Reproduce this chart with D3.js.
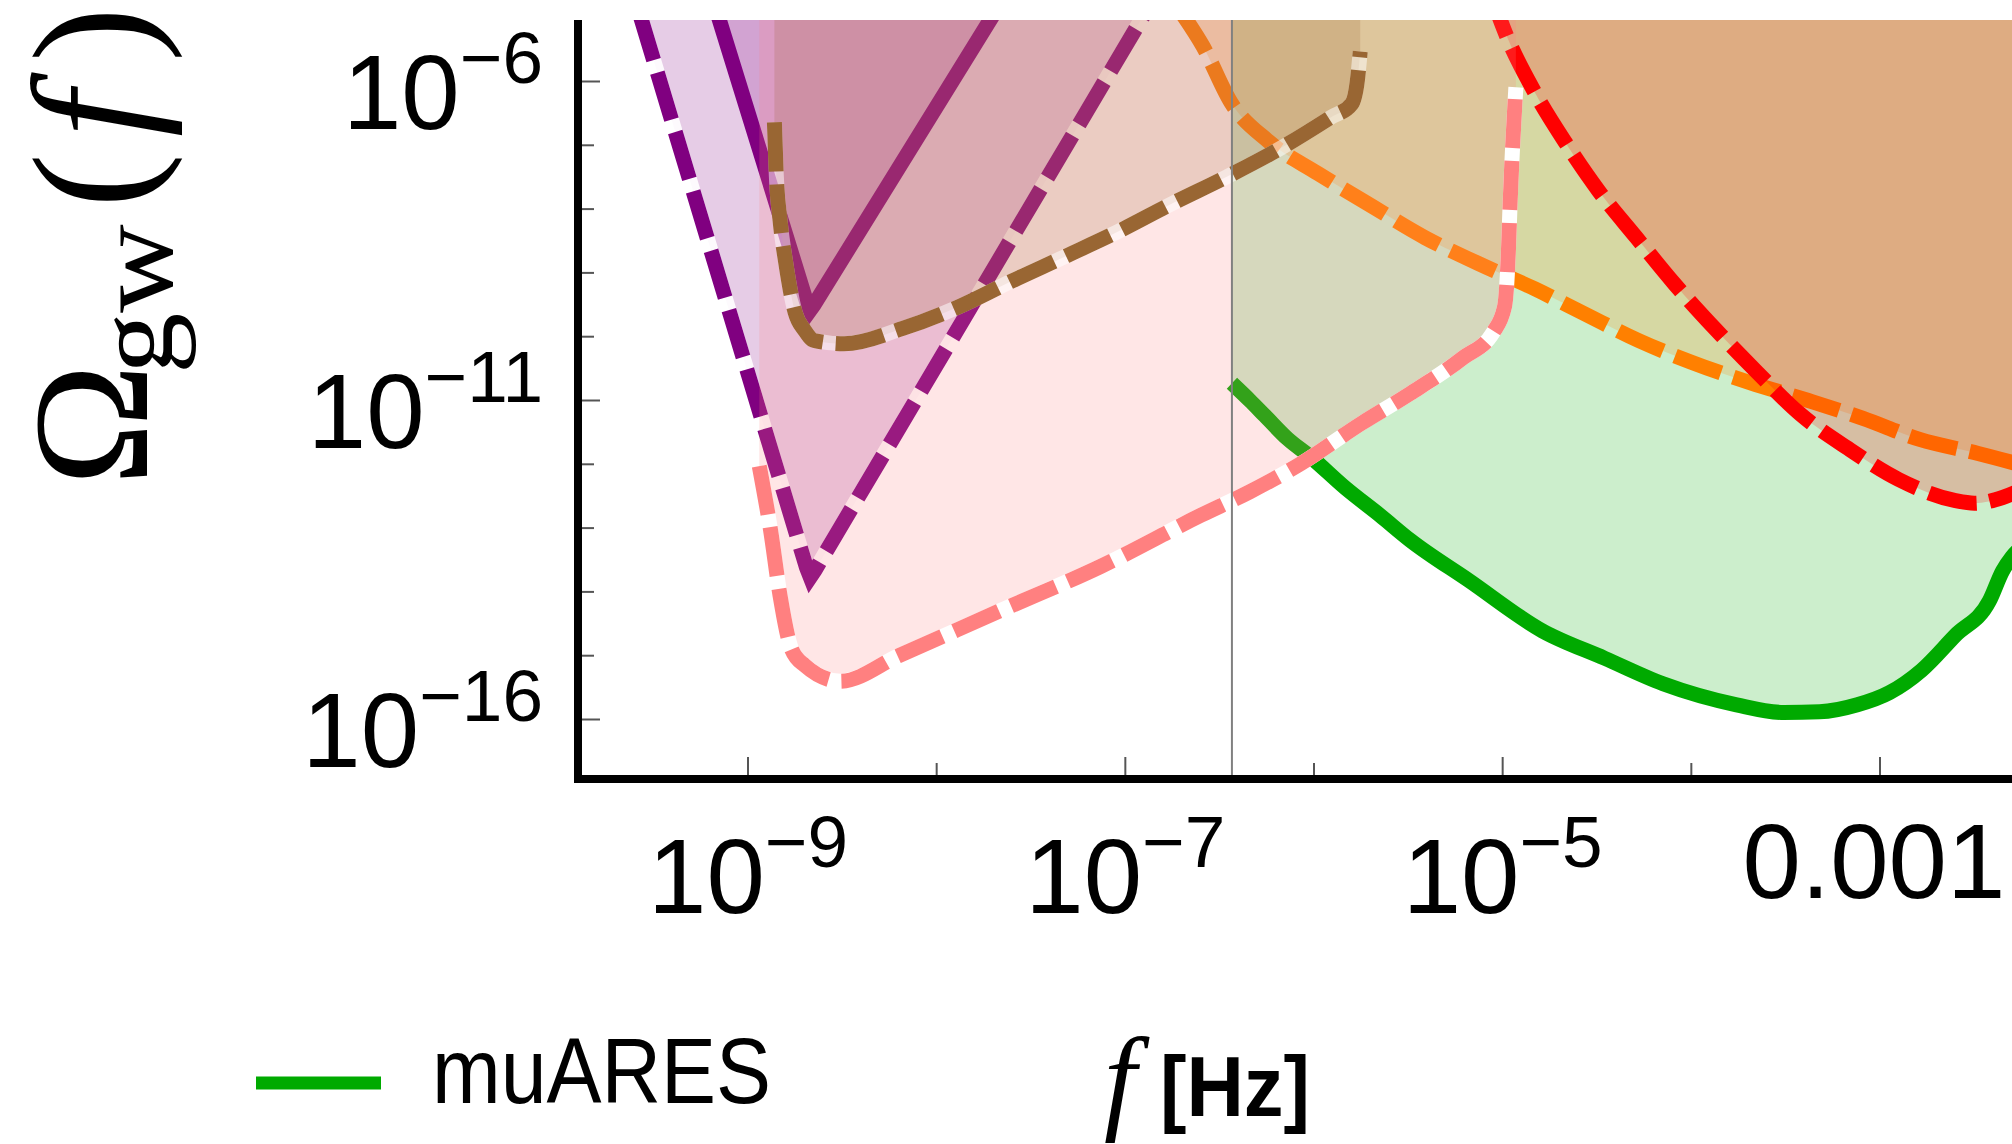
<!DOCTYPE html>
<html>
<head>
<meta charset="utf-8">
<script src="https://cdn.jsdelivr.net/npm/d3@7"></script>
<style>
  body { margin: 0; background: #fff; }
  svg { display: block; }
</style>
</head>
<body>
<div id="chart"></div>
<script>
// curves, as [log10 f (Hz), log10 Omega_gw]
const purpleDashed = [[-9.67, -4.0], [-8.69, -13.62], [-8.67, -13.77], [-8.645, -13.66], [-6.71, -4.0]];
const purpleSolid = [[-9.26, -4.0], [-8.69, -9.45], [-8.672, -9.59], [-8.65, -9.50], [-7.50, -4.0]];
const salmonDashed = [[-8.94, -12.03], [-8.88, -13.04], [-8.83, -14.06], [-8.77, -14.89], [-8.70, -15.15],
  [-8.51, -15.40], [-8.20, -15.00], [-7.66, -14.29], [-7.13, -13.60], [-6.60, -12.80], [-6.34, -12.43],
  [-6.07, -11.99], [-5.75, -11.36], [-5.49, -10.89], [-5.21, -10.33], [-5.05, -9.93], [-4.99, -9.53],
  [-4.97, -8.70], [-4.96, -7.87], [-4.93, -6.09]];
const brownDashed = [[-8.86, -6.64], [-8.85, -7.47], [-8.83, -8.18], [-8.80, -8.84], [-8.75, -9.62],
  [-8.70, -9.90], [-8.65, -10.06], [-8.49, -10.11], [-8.18, -9.87], [-7.89, -9.54], [-7.61, -9.14],
  [-7.31, -8.73], [-7.03, -8.34], [-6.75, -7.91], [-6.46, -7.49], [-6.18, -7.05], [-5.91, -6.56],
  [-5.80, -6.35], [-5.77, -5.98], [-5.755, -5.53]];
const orangeDashed = [[-6.71, -4.89], [-6.59, -5.44], [-6.44, -6.33], [-6.24, -6.94], [-5.98, -7.44],
  [-5.69, -7.96], [-5.41, -8.45], [-5.13, -8.85], [-4.83, -9.25], [-4.56, -9.65], [-4.28, -10.06],
  [-4.00, -10.40], [-3.69, -10.72], [-3.38, -11.00], [-3.09, -11.28], [-2.79, -11.61], [-2.48, -11.83],
  [-2.20, -12.05]];
const redDashed = [[-5.07, -4.57], [-4.98, -5.28], [-4.83, -6.17], [-4.66, -6.99], [-4.49, -7.72],
  [-4.29, -8.45], [-4.09, -9.17], [-3.87, -9.89], [-3.65, -10.56], [-3.42, -11.22], [-3.17, -11.75],
  [-2.90, -12.24], [-2.60, -12.57], [-2.50, -12.61], [-2.35, -12.52], [-2.20, -12.33]];
const muAres = [[-6.435, -10.73], [-6.34, -11.00], [-6.26, -11.24], [-6.14, -11.60], [-6.02, -11.88],
  [-5.83, -12.38], [-5.65, -12.80], [-5.49, -13.19], [-5.18, -13.82], [-4.79, -14.61], [-4.46, -15.04],
  [-4.15, -15.44], [-3.76, -15.77], [-3.51, -15.89], [-3.32, -15.88], [-3.12, -15.77], [-2.95, -15.58],
  [-2.78, -15.23], [-2.60, -14.68], [-2.42, -14.14], [-2.35, -13.67], [-2.30, -13.45], [-2.20, -13.19]];

const markerLogF = -6.435;   // thin grey vertical line

const xTickExps = [-9, -8, -7, -6, -5, -4, -3];
const xLabelExps = [-9, -7, -5, -3];
const yTickExps = [-16, -15, -14, -13, -12, -11, -10, -9, -8, -7, -6];
const yLabelExps = [-16, -11, -6];

const width = 2012, height = 1144;
const plotLeft = 578, plotRight = 2012, plotTop = 20, plotBottom = 779;

const svg = d3.select("#chart").append("svg")
  .attr("width", width)
  .attr("height", height);

const x = d3.scaleLog().domain([1e-9, 1e-3]).range([748, 1880]);
const y = d3.scaleLog().domain([1e-16, 1e-6]).range([719.5, 81.5]);

const px = d => x(Math.pow(10, d[0]));
const py = d => y(Math.pow(10, d[1]));

svg.append("clipPath")
  .attr("id", "plot")
  .append("rect")
  .attr("x", plotLeft)
  .attr("y", plotTop)
  .attr("width", plotRight - plotLeft + 50)
  .attr("height", plotBottom - plotTop);

// drawing order matters: later fills tint earlier lines
const series = [
  { data: purpleDashed, color: "#800080", dash: true, halo: 0.9, curve: d3.curveLinear },
  { data: purpleSolid, color: "#800080", dash: false, halo: 0, curve: d3.curveLinear },
  { data: muAres, color: "#00aa00", dash: false, halo: 0, curve: d3.curveMonotoneX },
  { data: orangeDashed, color: "#ff8000", dash: true, halo: 0, curve: d3.curveMonotoneX },
  { data: redDashed, color: "#ff0000", dash: true, halo: 0, curve: d3.curveMonotoneX },
  { data: salmonDashed, color: "#ff8080", dash: true, halo: 1, curve: d3.curveMonotoneX },
  { data: brownDashed, color: "#996633", dash: true, halo: 0.5, curve: d3.curveMonotoneX }
];

const plot = svg.append("g").attr("clip-path", "url(#plot)");

series.forEach(s => {
  const line = d3.line().x(px).y(py).curve(s.curve);
  // filling from the curve up to the top of the frame
  const area = d3.area().x(px).y0(plotTop - 300).y1(py).curve(s.curve);

  plot.append("path")
    .attr("d", area(s.data))
    .attr("fill", s.color)
    .attr("fill-opacity", 0.2);

  if (s.halo) {
    plot.append("path")
      .attr("d", line(s.data))
      .attr("fill", "none")
      .attr("stroke", "#fff")
      .attr("stroke-opacity", s.halo)
      .attr("stroke-width", 15);
  }

  plot.append("path")
    .attr("d", line(s.data))
    .attr("fill", "none")
    .attr("stroke", s.color)
    .attr("stroke-width", 15)
    .attr("stroke-dasharray", s.dash ? "49,13" : null);
});

plot.append("line")
  .attr("x1", x(Math.pow(10, markerLogF)))
  .attr("x2", x(Math.pow(10, markerLogF)))
  .attr("y1", plotTop)
  .attr("y2", plotBottom)
  .attr("stroke", "#808080")
  .attr("stroke-width", 2);

// ticks
svg.selectAll(".xtick")
  .data(xTickExps)
  .enter()
  .append("line")
  .attr("class", "xtick")
  .attr("x1", d => x(Math.pow(10, d)))
  .attr("x2", d => x(Math.pow(10, d)))
  .attr("y1", plotBottom)
  .attr("y2", d => xLabelExps.includes(d) ? plotBottom - 22 : plotBottom - 16)
  .attr("stroke", "#555")
  .attr("stroke-width", 2);

svg.selectAll(".ytick")
  .data(yTickExps)
  .enter()
  .append("line")
  .attr("class", "ytick")
  .attr("x1", plotLeft)
  .attr("x2", d => yLabelExps.includes(d) ? plotLeft + 22 : plotLeft + 16)
  .attr("y1", d => y(Math.pow(10, d)))
  .attr("y2", d => y(Math.pow(10, d)))
  .attr("stroke", "#555")
  .attr("stroke-width", 2);

// axis frame lines
svg.append("line")
  .attr("x1", plotLeft).attr("x2", plotLeft)
  .attr("y1", plotTop).attr("y2", plotBottom + 4)
  .attr("stroke", "#000").attr("stroke-width", 8);

svg.append("line")
  .attr("x1", plotLeft - 4).attr("x2", plotRight)
  .attr("y1", plotBottom).attr("y2", plotBottom)
  .attr("stroke", "#000").attr("stroke-width", 8);

// tick labels
const sans = "'Liberation Sans', Arial, sans-serif";

function powerLabel(sel, exp) {
  sel.append("tspan").attr("font-size", 105).text("10");
  sel.append("tspan").attr("font-size", 73).attr("dy", -46).text("\u2212" + Math.abs(exp));
}

yLabelExps.forEach(e => {
  const t = svg.append("text")
    .attr("x", 543)
    .attr("y", y(Math.pow(10, e)) + 47)
    .attr("text-anchor", "end")
    .attr("font-family", sans)
    .attr("fill", "#000");
  powerLabel(t, e);
});

xLabelExps.forEach(e => {
  const t = svg.append("text")
    .attr("x", x(Math.pow(10, e)))
    .attr("text-anchor", "middle")
    .attr("font-family", sans)
    .attr("fill", "#000");
  if (e === -3) {
    t.attr("y", 898).attr("x", x(Math.pow(10, e)) - 6).attr("font-size", 105).text("0.001");
  } else {
    t.attr("y", 913);
    powerLabel(t, e);
  }
});

// axis titles
const serif = "'Liberation Serif', 'Times New Roman', serif";

const yTitle = svg.append("text")
  .attr("transform", "translate(147,482) rotate(-90)")
  .attr("font-family", serif)
  .attr("fill", "#000");
yTitle.append("tspan").attr("x", -4).attr("font-size", 165).text("\u03A9");
yTitle.append("tspan").attr("x", 108).attr("dy", 25).attr("font-size", 112)
  .attr("textLength", 150).attr("lengthAdjust", "spacingAndGlyphs").text("gw");
yTitle.append("tspan").attr("x", 274).attr("dy", -25).attr("font-size", 165).text("(");
yTitle.append("tspan").attr("x", 345).attr("font-size", 165).attr("font-style", "italic").text("f");
yTitle.append("tspan").attr("x", 420).attr("font-size", 165).text(")");

svg.append("text")
  .attr("x", 1104)
  .attr("y", 1118)
  .attr("font-family", serif)
  .attr("font-style", "italic")
  .attr("font-size", 116)
  .text("f");

svg.append("text")
  .attr("x", 1160)
  .attr("y", 1116)
  .attr("font-family", sans)
  .attr("font-weight", "bold")
  .attr("font-size", 86)
  .attr("textLength", 150)
  .attr("lengthAdjust", "spacingAndGlyphs")
  .text("[Hz]");

// legend
svg.append("line")
  .attr("x1", 256).attr("x2", 381)
  .attr("y1", 1083).attr("y2", 1083)
  .attr("stroke", "#00aa00")
  .attr("stroke-width", 13);

svg.append("text")
  .attr("x", 432)
  .attr("y", 1103)
  .attr("font-family", sans)
  .attr("font-size", 92)
  .attr("textLength", 339)
  .attr("lengthAdjust", "spacingAndGlyphs")
  .text("muARES");
</script>
</body>
</html>
